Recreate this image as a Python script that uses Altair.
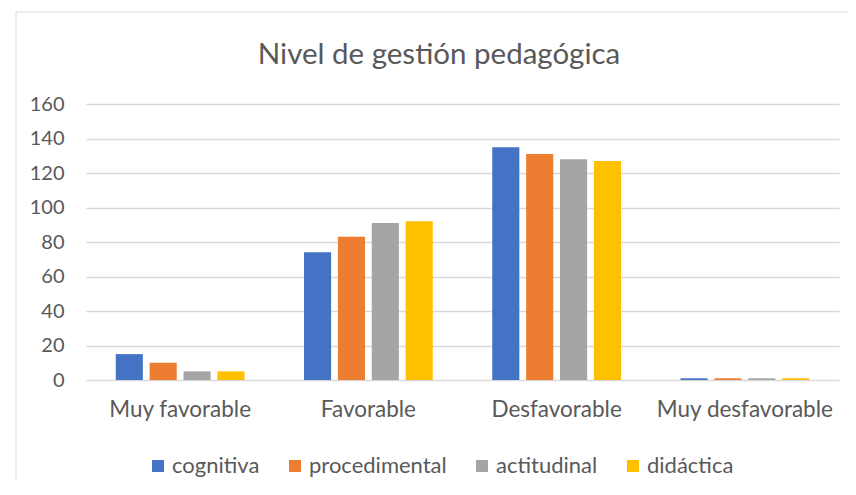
import altair as alt
import pandas as pd

title_text = "Nivel de gestión pedagógica"
categories = ["Muy favorable", "Favorable", "Desfavorable", "Muy desfavorable"]
series = ["cognitiva", "procedimental", "actitudinal", "didáctica"]
cognitiva = [15, 74, 135, 1]
procedimental = [10, 83, 131, 1]
actitudinal = [5, 91, 128, 1]
didactica = [5, 92, 127, 1]
colors = ["#4472C4", "#ED7D31", "#A5A5A5", "#FFC000"]
y_ticks = [0, 20, 40, 60, 80, 100, 120, 140, 160]

rows = []
for s, vals in zip(series, [cognitiva, procedimental, actitudinal, didactica]):
    for c, v in zip(categories, vals):
        rows.append({"nivel": c, "dimension": s, "valor": v})
df = pd.DataFrame(rows)

FONT = "Lato"
TXT = "#595959"
W, H = 753, 276
PL, PT = 78, 96

one = pd.DataFrame({"t": [title_text]})

frame = alt.Chart(one).mark_rect(
    fillOpacity=0, stroke="#d9d9d9", strokeWidth=1
).encode(
    x=alt.value(16 - 8 - PL), x2=alt.value(900),
    y=alt.value(12 - 8 - PT), y2=alt.value(500),
)

title = alt.Chart(one).mark_text(
    font=FONT, fontSize=29.5, color=TXT, align="center", baseline="alphabetic"
).encode(
    text="t:N", x=alt.value(439 - 8 - PL), y=alt.value(64 - 8 - PT),
)

bars = alt.Chart(df).mark_bar().encode(
    x=alt.X("nivel:N", sort=categories,
            scale=alt.Scale(paddingInner=0.28, paddingOuter=0.14),
            axis=alt.Axis(title=None, labelAngle=0, domain=True, domainColor="#d9d9d9",
                          ticks=False, grid=False, labelFont=FONT, labelFontSize=22.5,
                          labelColor=TXT, labelPadding=18)),
    xOffset=alt.XOffset("dimension:N", sort=series,
                        scale=alt.Scale(paddingInner=0.2, paddingOuter=0.1)),
    y=alt.Y("valor:Q", scale=alt.Scale(domain=[0, 160], nice=False),
            axis=alt.Axis(title=None, values=y_ticks, domain=False, ticks=False,
                          grid=True, gridColor="#d9d9d9", gridWidth=1.3,
                          labelFont=FONT, labelFontSize=20, labelColor=TXT,
                          labelPadding=22)),
    color=alt.Color("dimension:N", sort=series,
                    scale=alt.Scale(domain=series, range=colors),
                    legend=alt.Legend(title=None, orient="none", direction="horizontal",
                                      legendX=61, legendY=351, symbolType="square",
                                      symbolSize=144, symbolStrokeWidth=0,
                                      labelFont=FONT, labelFontSize=22, labelColor=TXT,
                                      columnPadding=24, labelOffset=3)),
)

chart = alt.layer(frame, title, bars).properties(
    width=W, height=H,
    autosize=alt.AutoSizeParams(type="none"),
    padding={"left": PL, "top": PT, "right": 9, "bottom": 100},
).configure_view(stroke=None)

chart.save("out.html", embed_options={"renderer": "svg", "actions": False})
